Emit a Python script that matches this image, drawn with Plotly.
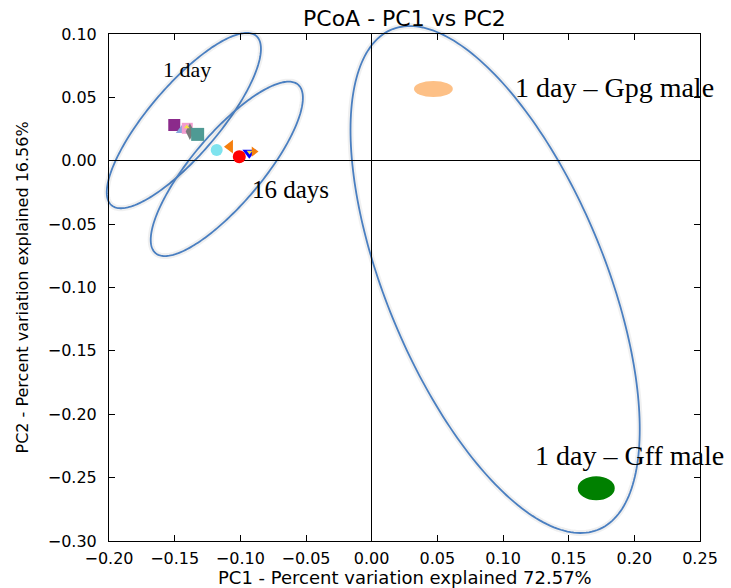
import numpy as np
import plotly.graph_objects as go

# ---------------- axes ----------------
X_RANGE = [-0.20, 0.25]
Y_RANGE = [-0.30, 0.10]
X_TICKS = [-0.20, -0.15, -0.10, -0.05, 0.00, 0.05, 0.10, 0.15, 0.20, 0.25]
Y_TICKS = [-0.30, -0.25, -0.20, -0.15, -0.10, -0.05, 0.00, 0.05, 0.10]

TITLE = "PCoA - PC1 vs PC2"
X_LABEL = "PC1 - Percent variation explained 72.57%"
Y_LABEL = "PC2 - Percent variation explained 16.56%"

# ---------------- samples (PC1, PC2) ----------------
SAMPLE_X = [-0.1503, -0.1439, -0.1404, -0.1384, -0.1325, -0.1180, -0.1079, -0.1008, -0.0932, -0.0896]
SAMPLE_Y = [0.0282, 0.0243, 0.0256, 0.0230, 0.0208, 0.0084, 0.0111, 0.0032, 0.0064, 0.0072]
ACCENT_X = [-0.1408, -0.0930]
ACCENT_Y = [0.0266, 0.0070]

# male groups (centres)
GROUP_X = [0.047, 0.171]
GROUP_Y = [0.0566, -0.2584]

# group ellipses: centre, semi-axes, rotation (deg)
ELL_CX = [-0.1430, -0.1103, 0.0940]
ELL_CY = [0.0317, -0.0064, -0.0937]
ELL_A = [0.0866, 0.0858, 0.2124]
ELL_B = [0.0270, 0.0270, 0.0837]
ELL_ANGLE = [50.7, 51.0, -68.5]

# text labels
LABELS = ["1 day", "16 days", "1 day \u2013 Gpg male", "1 day \u2013 Gff male"]
LABEL_X = [-0.1406, -0.0618, 0.1076, 0.1228]
LABEL_Y = [0.0721, -0.0228, 0.0581, -0.2329]

# ---------------- styles ----------------
SAMPLE_SYMBOLS = ["square", "triangle-up", "square", "diamond-tall", "square",
                  "circle", "triangle-left", "circle", "triangle-down", "triangle-right"]
SAMPLE_COLORS = ["#8b2a8b", "#88a8dc", "#f29ccf", "#7a7a7a", "#4f9a94",
                 "#7fe3ee", "#f57f0e", "#ff0000", "#0000ff", "#f57f0e"]
SAMPLE_SIZES = [12, 12, 11, 12, 13, 12, 12, 13, 12, 9]
ACCENT_COLOR = "#f2e040"
GROUP_COLORS = ["#fdc086", "#008000"]
GROUP_RX = [0.0148, 0.0141]
GROUP_RY = [0.0064, 0.0095]
LABEL_SIZES = [22, 25, 28, 28]
ELL_COLOR = "#4a7fc1"
AXIS_FONT = "DejaVu Sans"
SERIF = "Liberation Serif"

fig = go.Figure()


def dom_x(v):
    return (v - X_RANGE[0]) / (X_RANGE[1] - X_RANGE[0])


def dom_y(v):
    return (v - Y_RANGE[0]) / (Y_RANGE[1] - Y_RANGE[0])


shapes = []
t = np.linspace(0, 2 * np.pi, 241)
for cx, cy, a, b, ang in zip(ELL_CX, ELL_CY, ELL_A, ELL_B, ELL_ANGLE):
    th = np.deg2rad(ang)
    ex = cx + a * np.cos(th) * np.cos(t) - b * np.sin(th) * np.sin(t)
    ey = cy + a * np.sin(th) * np.cos(t) + b * np.cos(th) * np.sin(t)
    pts = [f"{dom_x(x):.5f},{dom_y(y):.5f}" for x, y in zip(ex, ey)]
    path = "M " + " L ".join(pts) + " Z"
    # soft glow
    shapes.append(dict(type="path", path=path, xref="x domain", yref="y domain",
                       line=dict(color="rgba(0,0,0,0.06)", width=6), layer="below"))
    shapes.append(dict(type="path", path=path, xref="x domain", yref="y domain",
                       line=dict(color=ELL_COLOR, width=1.8), layer="below"))

# filled group markers (ellipse blobs)
for gx, gy, rx, ry, col in zip(GROUP_X, GROUP_Y, GROUP_RX, GROUP_RY, GROUP_COLORS):
    shapes.append(dict(type="circle", xref="x", yref="y",
                       x0=gx - rx, x1=gx + rx, y0=gy - ry, y1=gy + ry,
                       fillcolor=col, line=dict(width=0), layer="above"))

fig.add_trace(go.Scatter(
    x=SAMPLE_X, y=SAMPLE_Y, mode="markers",
    marker=dict(symbol=SAMPLE_SYMBOLS, color=SAMPLE_COLORS, size=SAMPLE_SIZES,
                opacity=1, line=dict(width=0)),
    showlegend=False, hoverinfo="x+y", cliponaxis=False))
fig.add_trace(go.Scatter(
    x=ACCENT_X, y=ACCENT_Y, mode="markers",
    marker=dict(symbol=["triangle-up", "triangle-down"], color=ACCENT_COLOR, size=5,
                opacity=1, line=dict(width=0)),
    showlegend=False, hoverinfo="skip", cliponaxis=False))

annotations = []
for txt, lx, ly, fs in zip(LABELS, LABEL_X, LABEL_Y, LABEL_SIZES):
    anchor = "center" if fs < 26 else "left"
    annotations.append(dict(text=txt, x=lx, y=ly, xref="x", yref="y", showarrow=False,
                            xanchor=anchor, yanchor="middle",
                            font=dict(family=SERIF, size=fs, color="black")))

annotations.append(dict(text=TITLE, x=0.5, y=1, xref="paper", yref="paper",
                        xanchor="center", yanchor="bottom", yshift=1, showarrow=False,
                        font=dict(family=AXIS_FONT, size=22, color="black")))
annotations.append(dict(text=X_LABEL, x=0.5, y=0, xref="paper", yref="paper",
                        xanchor="center", yanchor="top", yshift=-24, showarrow=False,
                        font=dict(family=AXIS_FONT, size=18, color="black")))
annotations.append(dict(text=Y_LABEL, x=0, y=0.5, xref="paper", yref="paper",
                        xanchor="center", yanchor="middle", xshift=-87, textangle=-90,
                        showarrow=False,
                        font=dict(family=AXIS_FONT, size=16, color="black")))

axis_common = dict(
    showgrid=False, zeroline=True, zerolinecolor="black", zerolinewidth=1,
    showline=True, linecolor="black", linewidth=1, mirror="ticks",
    ticks="inside", ticklen=6, tickwidth=1, tickcolor="black",
    tickformat=".2f", tickfont=dict(family=AXIS_FONT, size=16, color="black"),
)

fig.update_layout(
    width=731, height=588,
    margin=dict(l=109, r=31, t=34, b=47),
    paper_bgcolor="white", plot_bgcolor="white",
    xaxis=dict(range=X_RANGE, tickvals=X_TICKS, ticklabelstandoff=3, **axis_common),
    yaxis=dict(range=Y_RANGE, tickvals=Y_TICKS, ticklabelstandoff=8, **axis_common),
    shapes=shapes, annotations=annotations, showlegend=False,
)

fig.write_html("out.html", config={"displayModeBar": False},
               post_script="document.body.style.margin='0px';")
